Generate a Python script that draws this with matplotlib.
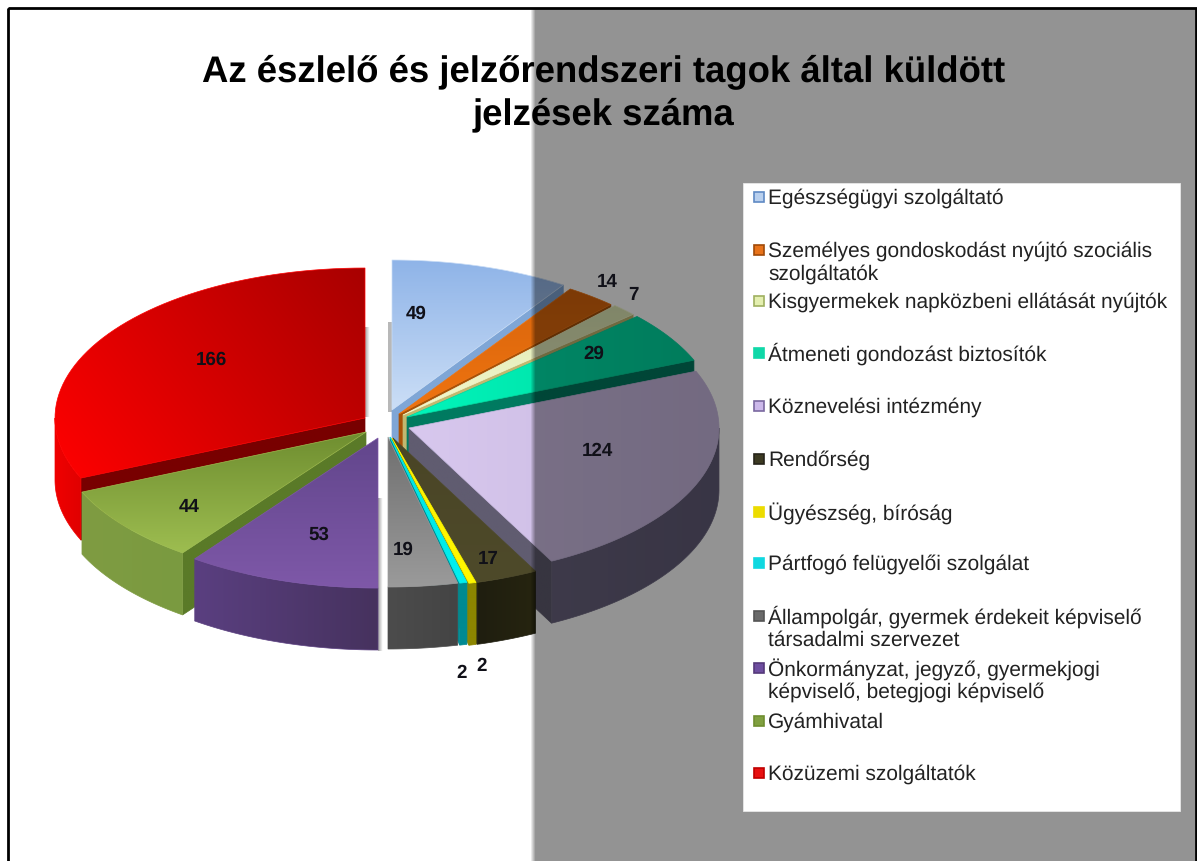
import numpy as np
import matplotlib
matplotlib.use('Agg')
import matplotlib.pyplot as plt
from matplotlib.colors import to_rgb
from matplotlib.patches import Polygon, Rectangle

plt.rcParams['font.family'] = ['Liberation Sans', 'DejaVu Sans']
plt.rcParams['text.hinting'] = 'none'

# Chart data
categories = [
    "Egészségügyi szolgáltató",
    "Személyes gondoskodást nyújtó szociális\nszolgáltatók",
    "Kisgyermekek napközbeni ellátását nyújtók",
    "Átmeneti gondozást biztosítók",
    "Köznevelési intézmény",
    "Rendőrség",
    "Ügyészség, bíróság",
    "Pártfogó felügyelői szolgálat",
    "Állampolgár, gyermek érdekeit képviselő\ntársadalmi szervezet",
    "Önkormányzat, jegyző, gyermekjogi\nképviselő, betegjogi képviselő",
    "Gyámhivatal",
    "Közüzemi szolgáltatók",
]
values = [49, 14, 7, 29, 124, 17, 2, 2, 19, 53, 44, 166]
title_lines = "Az észlelő és jelzőrendszeri tagok által küldött\njelzések száma"

# Layout of the fake 3D pie, in pixels of the picture
RX, RY, DEPTH = 310, 150, 62
tips = [(392, 410), (399, 414), (403, 415), (407, 417), (409, 428), (393, 438),
        (392, 438), (390, 437), (388, 437), (378, 438), (366, 432), (365, 418)]
label_pos = [(416, 314), (607, 282), (633, 295), (594, 354), (597, 451), (488, 559),
             (482, 666), (462, 673), (403, 550), (319, 535), (189, 507), (211, 360)]
legend_y = [197, 250, 301, 353, 406, 459, 512, 563, 616, 668, 721, 773]
line_gap = 23
# soft shadow strips next to the slices: x, y top, y bottom
shadow_strips = [(365, 327, 417), (378, 498, 651)]

# top colour start, top colour end, cut face, outer wall left, outer wall right, marker, marker edge
styles = [
    ('#8fb4e8', '#cbdef6', '#7fa6d6', '#7fa6d6', '#7fa6d6', '#b9d0ee', '#5f8ac4'),
    ('#d8650c', '#f07410', '#a85208', '#a85208', '#a85208', '#e8731a', '#a04a08'),
    ('#dfe9b5', '#f3f8cc', '#c2b870', '#c2b870', '#c2b870', '#e4efb0', '#9fb060'),
    ('#00d8a0', '#00f5bb', '#007a60', '#007a60', '#007a60', '#10d8a8', '#10d8a8'),
    ('#c8b8e0', '#d8c8ee', '#605c70', '#6b6580', '#625c78', '#ccb8ea', '#7a68a0'),
    ('#4a4526', '#4e4a2a', '#1f1e10', '#1f1e10', '#26240f', '#3c3a22', '#26241a'),
    ('#fff000', '#fff800', '#8c8600', '#8c8600', '#8c8600', '#ecdc00', '#ecdc00'),
    ('#00e0e0', '#00f0f0', '#008a92', '#008a92', '#008a92', '#10d8e0', '#10d8e0'),
    ('#707070', '#9a9a9a', '#4a4a4a', '#4c4c4c', '#444444', '#6a6a6a', '#555555'),
    ('#62468c', '#7e58a8', '#4a3468', '#5a3f80', '#46325e', '#6e4ea0', '#55397a'),
    ('#6f8e30', '#9dbd50', '#5a7a28', '#7f9c42', '#7a9a40', '#80a040', '#6f8e30'),
    ('#a80000', '#ff0000', '#780000', '#f00000', '#e00000', '#e81010', '#c00000'),
]

fig = plt.figure(figsize=(11.97, 8.61), dpi=100)
ax = fig.add_axes([0, 0, 1, 1])
ax.set_xlim(0, 1197)
ax.set_ylim(861, 0)
ax.axis('off')

z = [2]


def fill_grad(pts, c1, c2, dx=0.0, dy=1.0):
    # polygon filled by a linear gradient: imshow clipped to the polygon
    pts = np.asarray(pts)
    z[0] += 1
    poly = Polygon(pts, closed=True, fc='none', ec=c2, lw=0.5, zorder=z[0] + 0.5)
    ax.add_patch(poly)
    x0, y0 = pts.min(axis=0)
    x1, y1 = pts.max(axis=0)
    xx, yy = np.meshgrid(np.linspace(0, 1, 80), np.linspace(0, 1, 80))
    t = xx * dx + yy * dy
    t = (t - t.min()) / (t.max() - t.min())
    a, b = np.array(to_rgb(c1)), np.array(to_rgb(c2))
    rgb = a + (b - a) * t[..., None]
    im = ax.imshow(rgb, extent=(x0, x1, y1, y0), aspect='auto', zorder=z[0],
                   interpolation='bilinear')
    im.set_clip_path(poly)


def rim(tip, a0, a1, n=60):
    th = np.linspace(a0, a1, n)
    return np.column_stack([tip[0] + RX * np.sin(th), tip[1] - RY * np.cos(th)])


def draw_slice(i):
    a0, a1 = angles[i], angles[i + 1]
    tip = tips[i]
    c1, c2, cut, wall1, wall2 = styles[i][:5]
    # cut face that looks at the viewer
    edge = a1 if a0 < np.pi else a0
    if abs(edge - np.pi) > 1e-3:
        p = rim(tip, edge, edge, 1)[0]
        fill_grad([tip, p, (p[0], p[1] + DEPTH), (tip[0], tip[1] + DEPTH)], cut, cut)
    # outer wall on the front half
    w0, w1 = max(a0, np.pi / 2), min(a1, 3 * np.pi / 2)
    if w0 < w1:
        top = rim(tip, w0, w1)
        bottom = top[::-1] + [0, DEPTH]
        fill_grad(np.vstack([top, bottom]), wall2, wall1, dx=-1, dy=0)
    # top face
    outer = rim(tip, a0, a1)
    pts = np.vstack([[tip], outer])
    if i == 11:
        fill_grad(pts, c1, c2, dx=-1, dy=0.5)
    elif i in (3, 4):
        fill_grad(pts, c2, c1, dx=1, dy=0)
    else:
        fill_grad(pts, c1, c2)


angles = np.concatenate([[0], np.cumsum(values)]) / sum(values) * 2 * np.pi

# shadows go under the pie
for sx, y0, y1 in shadow_strips:
    fade = np.zeros((1, 8, 4))
    fade[0, :, :3] = 0.35
    fade[0, :, 3] = np.linspace(0.55, 0.0, 8)
    ax.imshow(fade, extent=(sx, sx + 5, y1, y0), aspect='auto', zorder=1, interpolation='bilinear')
ax.add_patch(Rectangle((388, 322), 4, 90, fc='#b8b8b8', ec='none', zorder=1))

# back to front: right side going clockwise, then left side going back
for i in list(range(0, 9)) + [11, 10, 9]:
    draw_slice(i)

# gray overlay on the right half, soft left edge
ramp = np.zeros((1, 660, 4))
ramp[0, :, 3] = np.clip(np.arange(660) / 5.0, 0, 1) * 0.427
ax.imshow(ramp, extent=(530, 1190 + 6, 861, 9), aspect='auto', zorder=200, interpolation='bilinear')

# frame
ax.add_patch(Rectangle((8, 8), 1188, 860, fc='none', ec='black', lw=2.0, zorder=210))

for v, (x, y) in zip(values, label_pos):
    ax.text(x, y, str(v), ha='center', va='center', fontsize=13.5, fontweight='bold',
            color='#101018', zorder=220)

ax.text(603.5, 93, title_lines, ha='center', va='center', fontsize=26.3, fontweight='bold',
        color='black', linespacing=1.3, zorder=220)

# legend
ax.add_patch(Rectangle((743, 183), 437, 628, fc='white', ec='#e8e8e8', lw=0.6, zorder=205))
for i, name in enumerate(categories):
    y = legend_y[i]
    ax.plot(759, y, marker='s', ms=7.5, mfc=styles[i][5], mec=styles[i][6], mew=1.2, zorder=215)
    ax.text(768, y + 1, name.split('\n')[0], ha='left', va='center', fontsize=15,
            color='#222222', zorder=220)
    if '\n' in name:
        ax.text(768, y + 1 + line_gap, name.split('\n')[1], ha='left', va='center', fontsize=15,
                color='#222222', zorder=220)

ax.set_xlim(0, 1197)
ax.set_ylim(861, 0)
fig.savefig('out.png', dpi=100)
